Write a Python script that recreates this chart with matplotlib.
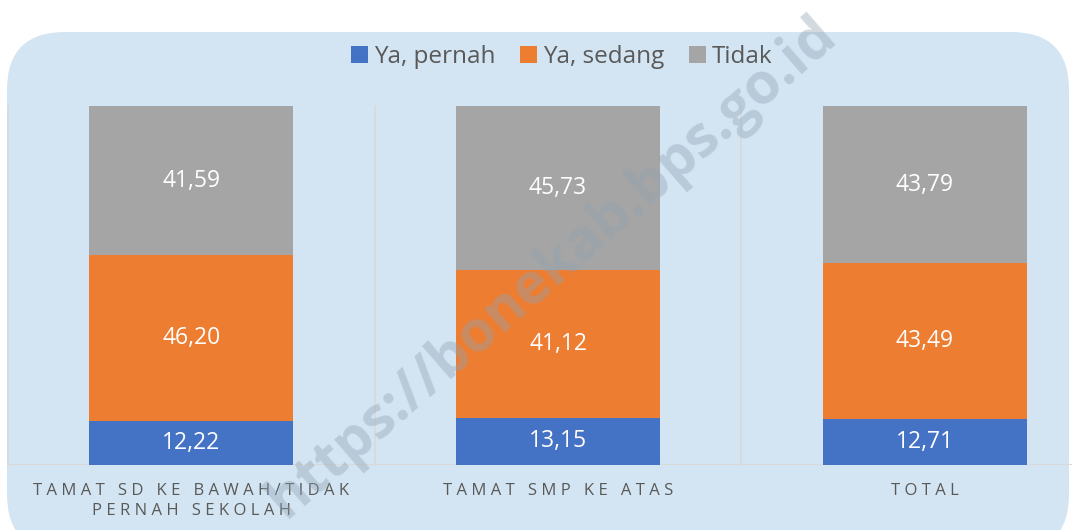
import matplotlib.pyplot as plt
from matplotlib.patches import FancyBboxPatch

# data
categories = ["TAMAT SD KE BAWAH/TIDAK\nPERNAH SEKOLAH", "TAMAT SMP KE ATAS", "TOTAL"]
series_names = ["Ya, pernah", "Ya, sedang", "Tidak"]
ya_pernah = [12.22, 13.15, 12.71]
ya_sedang = [46.20, 41.12, 43.49]
tidak = [41.59, 45.73, 43.79]
colors = ["#4472C4", "#ED7D31", "#A5A5A5"]

plt.rcParams['font.family'] = ['Open Sans', 'DejaVu Sans']

fig = plt.figure(figsize=(10.72, 5.30), dpi=100)
fig.patch.set_facecolor("white")

# background rounded panel (pixel units)
bg = fig.add_axes([0, 0, 1, 1])
bg.set_xlim(0, 1072)
bg.set_ylim(530, 0)
bg.axis("off")
bg.add_patch(FancyBboxPatch((7, 32), 1062, 520, boxstyle="round,pad=0,rounding_size=58",
                            facecolor="#D3E5F2", edgecolor="none"))

ax = fig.add_axes([8 / 1072, 65 / 530, 1100 / 1072, 359 / 530])
ax.set_facecolor("none")
ax.set_xlim(-0.5, 2.5)
ax.set_ylim(0, 100)
for s in ax.spines.values():
    s.set_visible(False)
ax.set_xticks([])
ax.set_yticks([])

x = range(len(categories))
bottom = [0, 0, 0]
for name, vals, c in zip(series_names, [ya_pernah, ya_sedang, tidak], colors):
    ax.bar(x, vals, width=0.557, bottom=bottom, color=c, label=name, zorder=3)
    for i, v in enumerate(vals):
        ax.text(i, bottom[i] + v / 2, f"{v:.2f}".replace(".", ","), ha="center", va="center",
                color="white", fontsize=16.5, zorder=4)
    bottom = [b + v for b, v in zip(bottom, vals)]

# separators and baseline
for xs in [-0.5, 0.5, 1.5]:
    ax.plot([xs, xs], [0, 100], color="#D9D9D9", lw=1.2, zorder=1, clip_on=False)
ax.axhline(0, color="#D9D9D9", lw=1.5, zorder=2)


def spaced(label):
    lines = []
    for line in label.split("\n"):
        words = line.split(" ")
        lines.append("   ".join(" ".join(w) for w in words))
    return "\n".join(lines)


for i, cat in enumerate(categories):
    ax.text(i, -5.0, spaced(cat), ha="center", va="top", fontsize=12, color="#595959",
            linespacing=1.35, transform=ax.transData, clip_on=False)

leg = fig.legend(loc="center", bbox_to_anchor=(562 / 1072, 1 - 57 / 530), ncol=3, frameon=False,
                 fontsize=17.5, handlelength=0.7, handleheight=0.7, handletextpad=0.25,
                 columnspacing=1.0, labelcolor="#595959")

# watermark
fig.text(552 / 1072, 1 - 268 / 530, "https://bonekab.bps.go.id", rotation=41, ha="center",
         va="center", fontsize=41, fontweight="bold", color="#8FA3B3", alpha=0.4)

fig.savefig("out.png", dpi=100)
